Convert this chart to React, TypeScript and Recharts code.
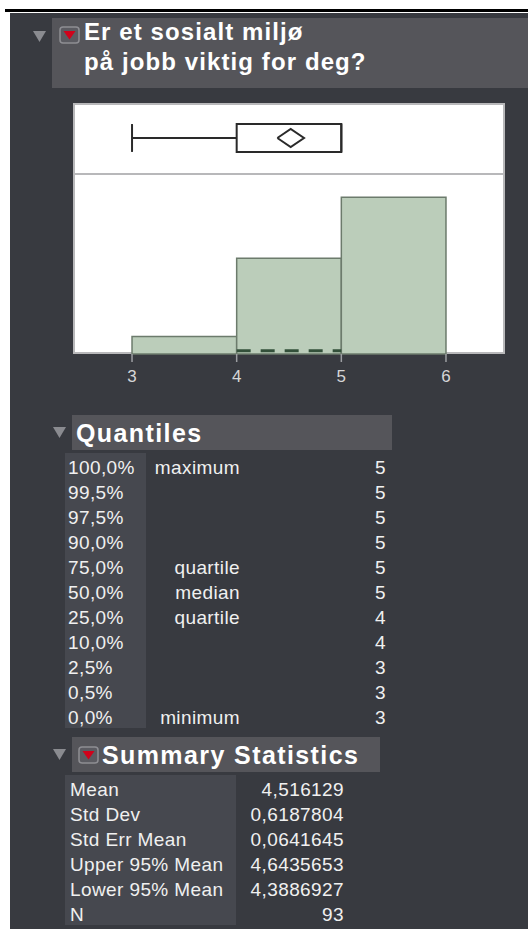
import React from 'react';
import {
  ComposedChart,
  XAxis,
  YAxis,
  ReferenceArea,
  ReferenceLine,
  Line,
} from 'recharts';

// histogram bins (lower edge, width 1) and counts
const binStarts = [3, 4, 5];
const binCounts = [6, 33, 54];
const xTicks = [3, 4, 5, 6];
const xDomain = [2.436, 6.564];

// box plot: min, q1, median, q3, max
const boxFive = [3, 4, 5, 5, 5];
const meanValue = 4.516129;
const meanCI = [4.3886927, 4.6435653];
const shortestHalf = [4, 5];

const quantilePcts = ['100,0%', '99,5%', '97,5%', '90,0%', '75,0%', '50,0%', '25,0%', '10,0%', '2,5%', '0,5%', '0,0%'];
const quantileNames = ['maximum', '', '', '', 'quartile', 'median', 'quartile', '', '', '', 'minimum'];
const quantileValues = [5, 5, 5, 5, 5, 5, 4, 4, 3, 3, 3];

const statNames = ['Mean', 'Std Dev', 'Std Err Mean', 'Upper 95% Mean', 'Lower 95% Mean', 'N'];
const statValues = ['4,516129', '0,6187804', '0,0641645', '4,6435653', '4,3886927', '93'];

const FONT = '"Liberation Sans", Arial, sans-serif';
const BG = '#383a40';
const BAR_BG = '#55555a';
const COL_BG = '#46484f';
const TEXT = '#f0f0f0';

const abs = (left: number, top: number, extra: React.CSSProperties = {}): React.CSSProperties => ({
  position: 'absolute',
  left,
  top,
  ...extra,
});

const cell: React.CSSProperties = {
  color: TEXT,
  fontSize: 19,
  lineHeight: '25px',
  letterSpacing: 0.4,
  whiteSpace: 'pre',
};

const header: React.CSSProperties = {
  color: '#ffffff',
  fontWeight: 700,
  fontSize: 25,
  lineHeight: '36px',
  letterSpacing: 1.4,
  whiteSpace: 'pre',
};

const Triangle = ({ left, top }: { left: number; top: number }) => (
  <svg style={abs(left, top)} width={13} height={11}>
    <polygon points="0,0 13,0 6.5,11" fill="#8a8b90" />
  </svg>
);

const RedIcon = ({ left, top }: { left: number; top: number }) => (
  <svg style={abs(left, top)} width={21} height={18}>
    <rect x={1} y={1} width={19} height={16} rx={3} fill="#5b5b61" stroke="#8e8e93" strokeWidth={1.5} />
    <polygon points="4.5,5 16.5,5 10.5,13.5" fill="#d0021b" />
  </svg>
);

const histData = binStarts.map((s, i) => ({ x: s, count: binCounts[i] }));

const diamondData = [
  { x: meanCI[0], y: 0.515 },
  { x: meanValue, y: 0.647 },
  { x: meanCI[1], y: 0.515 },
  { x: meanValue, y: 0.382 },
  { x: meanCI[0], y: 0.515 },
];

const BoxPlot = () => (
  <ComposedChart
    width={428}
    height={68}
    data={diamondData}
    margin={{ top: 0, right: 0, bottom: 0, left: 0 }}
  >
    <XAxis type="number" dataKey="x" domain={[xDomain[0] + 0.019, xDomain[1] - 0.019]} hide allowDataOverflow />
    <YAxis type="number" domain={[0, 1]} hide />
    <ReferenceLine
      segment={[{ x: boxFive[0], y: 0.515 }, { x: boxFive[1], y: 0.515 }]}
      stroke="#2a2a2a"
      strokeWidth={2}
    />
    <ReferenceLine
      segment={[{ x: boxFive[0], y: 0.31 }, { x: boxFive[0], y: 0.72 }]}
      stroke="#2a2a2a"
      strokeWidth={2}
    />
    <ReferenceArea
      x1={boxFive[1]}
      x2={boxFive[3]}
      y1={0.31}
      y2={0.72}
      fill="#ffffff"
      fillOpacity={1}
      stroke="#2a2a2a"
      strokeWidth={2}
    />
    <ReferenceLine
      segment={[{ x: boxFive[2], y: 0.31 }, { x: boxFive[2], y: 0.72 }]}
      stroke="#2a2a2a"
      strokeWidth={2}
    />
    <Line
      type="linear"
      dataKey="y"
      stroke="#2a2a2a"
      strokeWidth={2}
      dot={false}
      isAnimationActive={false}
    />
  </ComposedChart>
);

const Histogram = () => (
  <ComposedChart
    width={432}
    height={212}
    data={histData}
    margin={{ top: 0, right: 0, bottom: 0, left: 0 }}
  >
    <XAxis
      type="number"
      dataKey="x"
      domain={xDomain}
      ticks={xTicks}
      allowDataOverflow
      height={32}
      axisLine={false}
      tickSize={8}
      tickMargin={8}
      tickLine={{ stroke: '#9c9ea2', strokeWidth: 1.5 }}
      tick={{ fill: '#d6d6d8', fontSize: 17, fontFamily: FONT }}
    />
    <YAxis type="number" domain={[0, 62]} hide />
    {binStarts.map((s, i) => (
      <ReferenceArea
        key={s}
        x1={s}
        x2={s + 1}
        y1={0}
        y2={binCounts[i]}
        fill="#bbcdba"
        fillOpacity={1}
        stroke="#6c7b6c"
        strokeWidth={1.5}
      />
    ))}
    <ReferenceLine
      segment={[{ x: shortestHalf[0], y: 1.1 }, { x: shortestHalf[1], y: 1.1 }]}
      stroke="#33503a"
      strokeWidth={3}
      strokeDasharray="14 10"
    />
    <Line dataKey="count" stroke="none" dot={false} isAnimationActive={false} />
  </ComposedChart>
);

const App = () => {
  return (
    <div
      style={{
        position: 'absolute',
        left: 0,
        top: 0,
        width: 528,
        height: 929,
        background: '#ffffff',
        fontFamily: FONT,
        overflow: 'hidden',
      }}
    >
      <div style={abs(5, 9, { width: 523, height: 3, background: '#000' })} />
      <div style={abs(10, 13, { width: 518, height: 916, background: BG })} />

      {/* title */}
      <div style={abs(52, 18, { width: 476, height: 70, background: BAR_BG })} />
      <Triangle left={33} top={31} />
      <RedIcon left={59} top={26} />
      <div
        style={abs(84, 17, {
          color: '#ffffff',
          fontWeight: 700,
          fontSize: 24,
          lineHeight: '30px',
          letterSpacing: 1.1,
          whiteSpace: 'pre',
        })}
      >
        {'Er et sosialt miljø\npå jobb viktig for deg?'}
      </div>

      {/* chart frame */}
      <div
        style={abs(73, 103, {
          width: 432,
          height: 251,
          background: '#ffffff',
          border: '2px solid #b8b8ba',
          boxSizing: 'border-box',
        })}
      />
      <div style={abs(73, 173, { width: 432, height: 2, background: '#b8b8ba' })} />
      <div style={abs(75, 105)}>
        <BoxPlot />
      </div>
      <div style={abs(73, 174)}>
        <Histogram />
      </div>

      {/* quantiles */}
      <Triangle left={53} top={427} />
      <div style={abs(72, 415, { width: 320, height: 35, background: BAR_BG })} />
      <div style={abs(76, 415, header)}>Quantiles</div>
      <div style={abs(65, 453, { width: 81, height: 275, background: COL_BG })} />
      {quantilePcts.map((p, i) => (
        <React.Fragment key={p}>
          <div style={abs(68, 455 + i * 25, cell)}>{p}</div>
          <div style={abs(140, 455 + i * 25, { ...cell, width: 100, textAlign: 'right' })}>
            {quantileNames[i]}
          </div>
          <div style={abs(336, 455 + i * 25, { ...cell, width: 50, textAlign: 'right' })}>
            {quantileValues[i]}
          </div>
        </React.Fragment>
      ))}

      {/* summary statistics */}
      <Triangle left={53} top={749} />
      <div style={abs(72, 737, { width: 308, height: 35, background: BAR_BG })} />
      <RedIcon left={78} top={746} />
      <div style={abs(102, 737, header)}>Summary Statistics</div>
      <div style={abs(65, 775, { width: 171, height: 150, background: COL_BG })} />
      {statNames.map((n, i) => (
        <React.Fragment key={n}>
          <div style={abs(70, 777 + i * 25, cell)}>{n}</div>
          <div style={abs(244, 777 + i * 25, { ...cell, width: 100, textAlign: 'right' })}>
            {statValues[i]}
          </div>
        </React.Fragment>
      ))}
    </div>
  );
};

export default App;
